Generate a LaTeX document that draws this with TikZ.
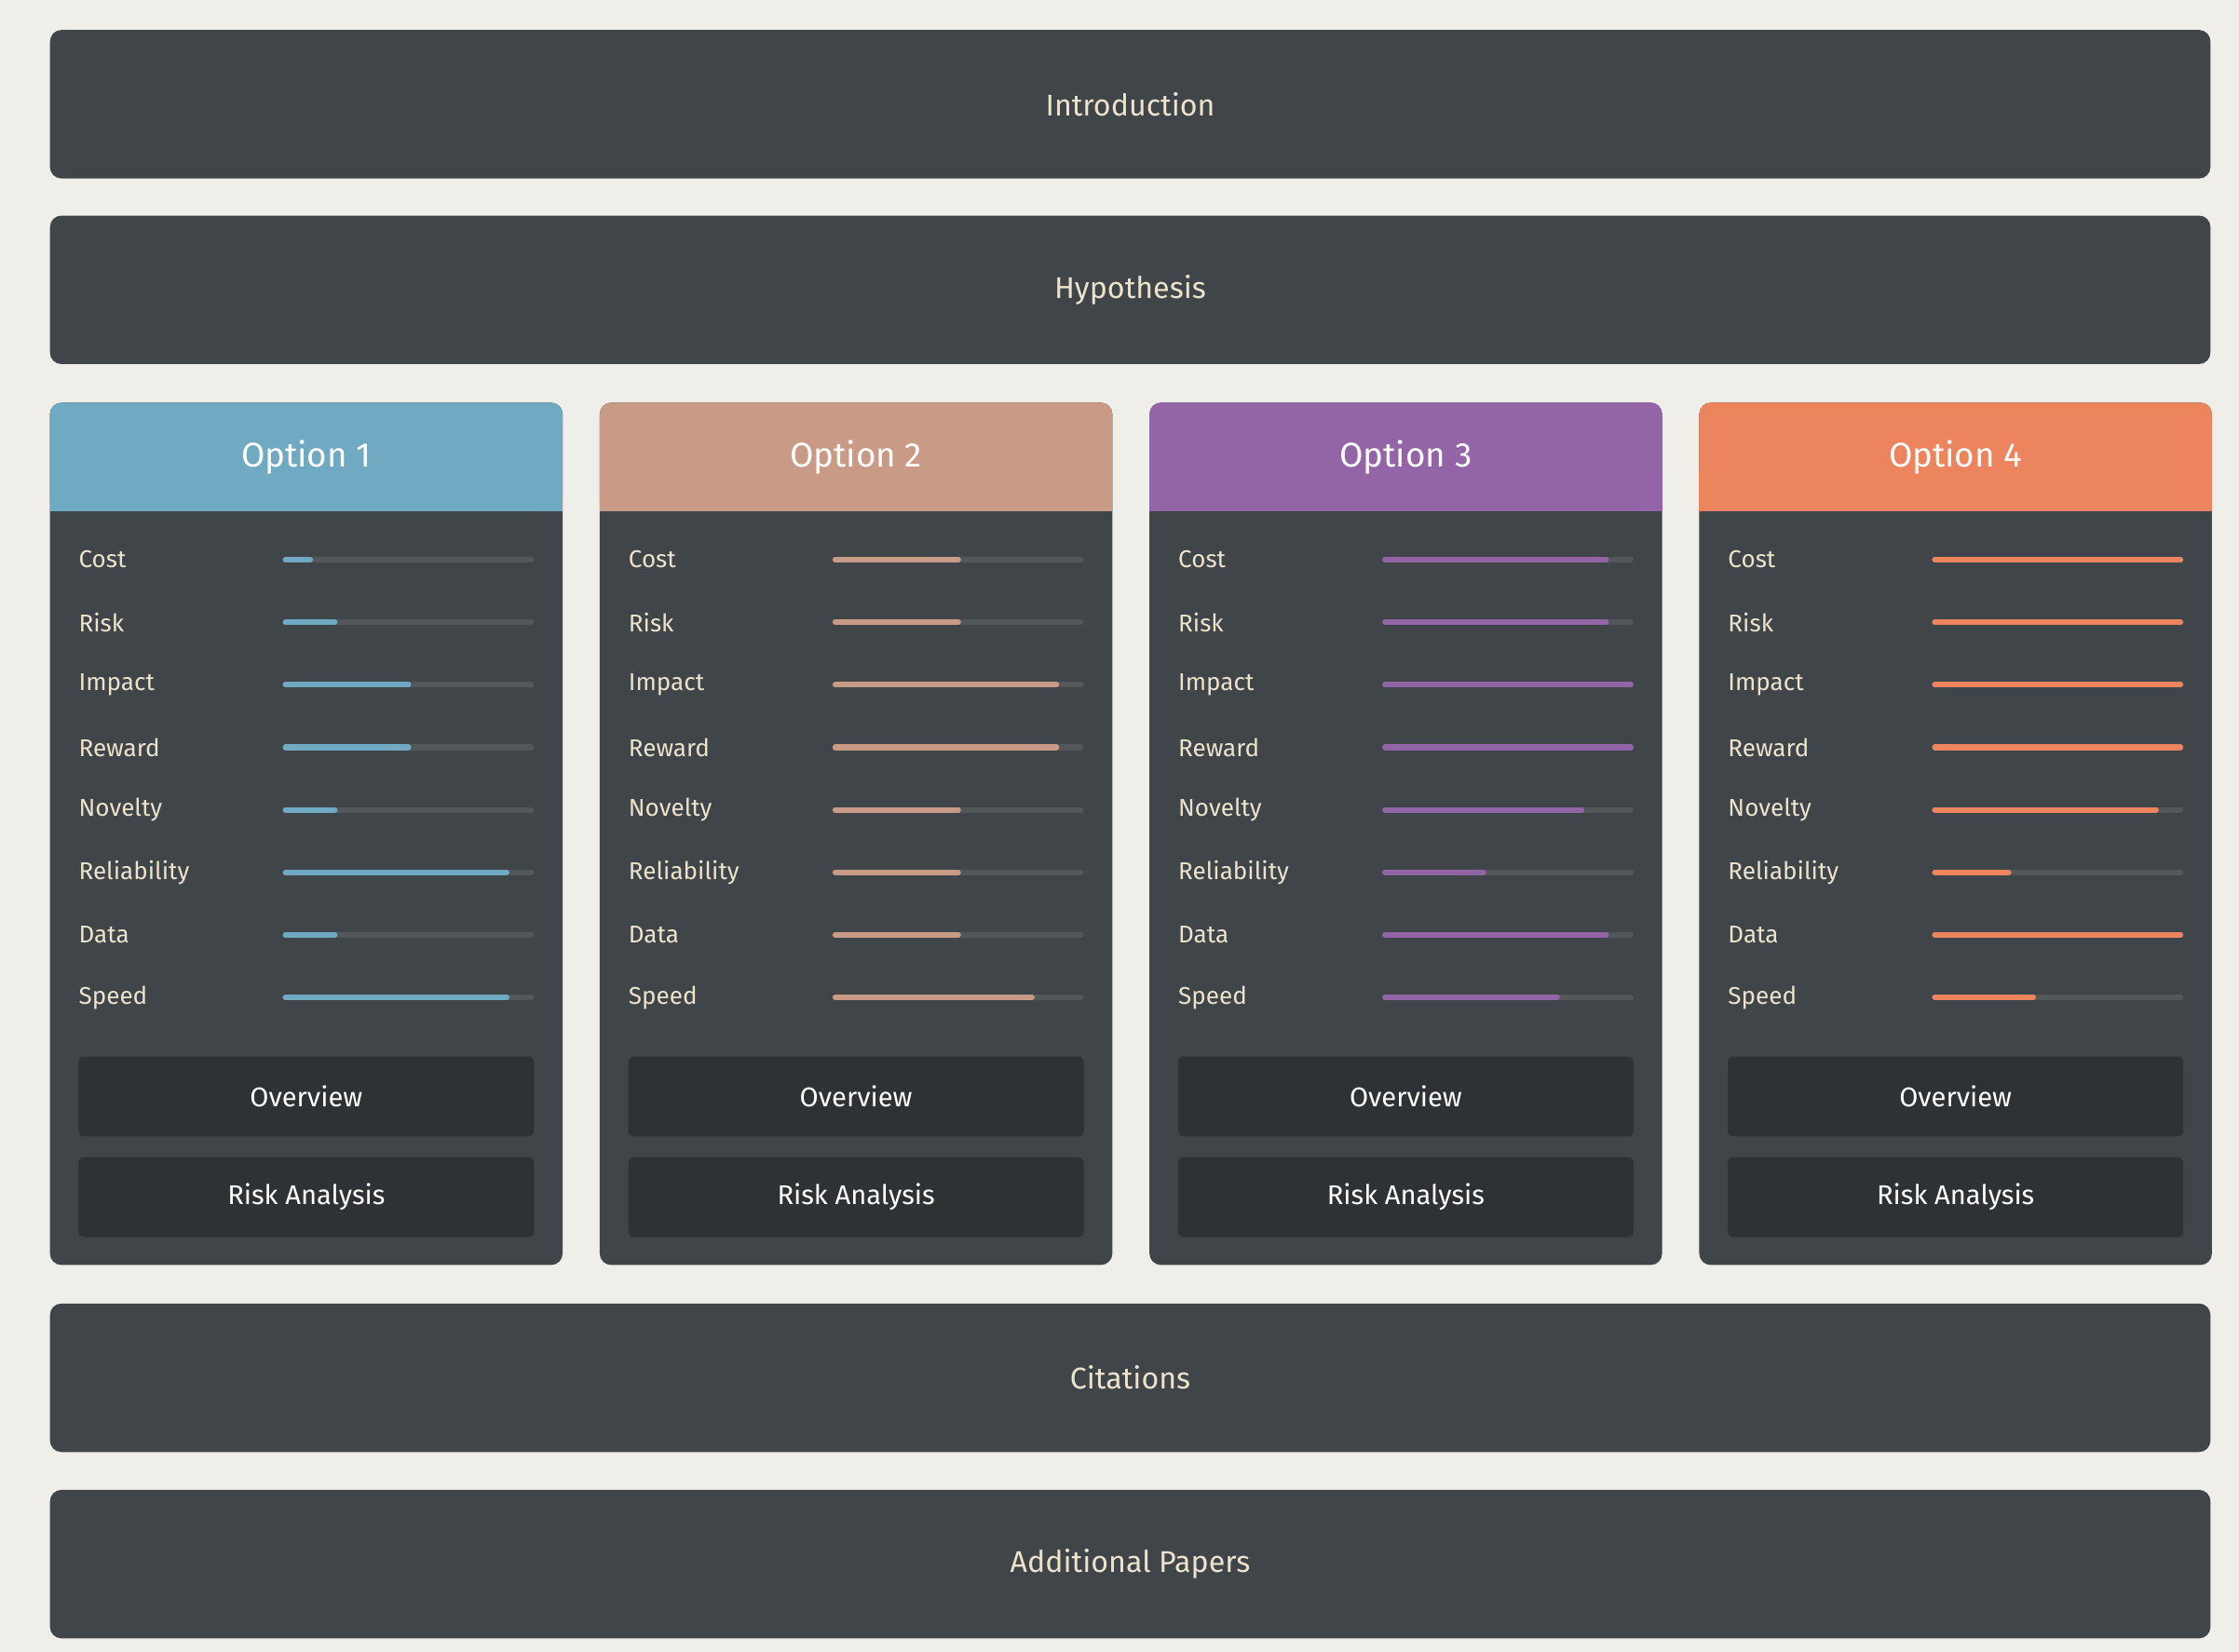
\documentclass[tikz,border=0pt]{standalone}
\usepackage{fontspec}
\setmainfont{Fira Sans}
\definecolor{bg}{HTML}{F0EEE9}
\definecolor{panel}{HTML}{3F4548}
\definecolor{btn}{HTML}{2E3235}
\definecolor{track}{HTML}{52575A}
\definecolor{txt}{HTML}{EDE3CC}
\definecolor{cA}{HTML}{6FAAC2}
\definecolor{cB}{HTML}{C99A85}
\definecolor{cC}{HTML}{9364A6}
\definecolor{cD}{HTML}{EC845E}
\tikzset{
 wide/.style={fill=panel,rounded corners=8pt,minimum width=1513pt,minimum height=104pt,text=txt,font=\fontsize{21}{24}\selectfont,inner sep=0},
 lbl/.style={anchor=west,text=txt,font=\fontsize{17}{20}\selectfont,inner sep=0},
 button/.style={fill=btn,rounded corners=4pt,minimum width=319pt,minimum height=56pt,text=white,font=\fontsize{19}{22}\selectfont,inner sep=0},
 bar/.style={line width=4pt,line cap=round}
}
\begin{document}
\begin{tikzpicture}[x=1pt,y=-1pt]
\fill[bg] (0,0) rectangle (1568,1157);
\useasboundingbox (0,0) rectangle (1568,1157);
\node[wide] (intro) at (791.5,73) {Introduction};
\node[wide] (hyp) at (791.5,203) {Hypothesis};
\node[wide] (cit) at (791.5,965) {Citations};
\node[wide] (add) at (791.5,1095.5) {Additional Papers};
\foreach \i/\x/\c/\vals in {1/35/cA/{0.1,0.2,0.5,0.5,0.2,0.9,0.2,0.9},2/420/cB/{0.5,0.5,0.9,0.9,0.5,0.5,0.5,0.8},3/805/cC/{0.9,0.9,1,1,0.8,0.4,0.9,0.7},4/1190/cD/{1,1,1,1,0.9,0.3,1,0.4}}{
 \fill[panel,rounded corners=8pt] (\x,282) rectangle ++(359,604);
 \fill[\c,rounded corners=8pt] (\x,282) rectangle ++(359,76);
 \fill[\c] (\x,330) rectangle ++(359,28);
 \node[text=white,font=\fontsize{24}{28}\selectfont] (h\i) at (\x+179.5,320) {Option \i};
 \foreach \n [count=\k] in {Cost,Risk,Impact,Reward,Novelty,Reliability,Data,Speed}{
  \pgfmathsetmacro\yy{392+43.8*(\k-1)}
  \pgfmathsetmacro\v{{\vals}[\k-1]}
  \node[lbl] (l\i\k) at (\x+20,\yy) {\n};
  \draw[bar,track] (\x+165,\yy) -- (\x+337,\yy);
  \draw[bar,\c] (\x+165,\yy) -- (\x+165+172*\v,\yy);
 }
 \node[button] (o\i) at (\x+179.5,768) {Overview};
 \node[button] (r\i) at (\x+179.5,838.5) {Risk Analysis};
}
\end{tikzpicture}
\end{document}
